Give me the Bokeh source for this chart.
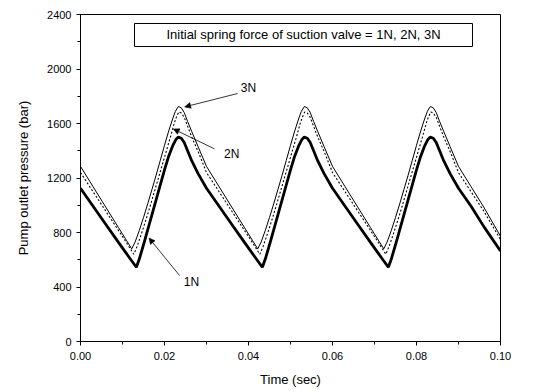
from bokeh.plotting import figure
from bokeh.models import (Range1d, Label, Arrow, NormalHead, SingleIntervalTicker,
                          PrintfTickFormatter, BoxAnnotation)
from bokeh.embed import file_html
from bokeh.resources import INLINE

# ---- data (time in s, pressure in bar) ----
time_1n = [0.0, 0.003, 0.006, 0.009, 0.012, 0.0133, 0.014, 0.015, 0.016, 0.017, 0.018, 0.019, 0.020,
           0.021, 0.022, 0.0227, 0.0233, 0.024, 0.0247, 0.0255, 0.0265, 0.028,
           0.030, 0.033, 0.036, 0.039, 0.042, 0.0433, 0.044, 0.045, 0.046, 0.047, 0.048, 0.049, 0.050,
           0.051, 0.052, 0.0527, 0.0533, 0.054, 0.0547, 0.0555, 0.0565, 0.058,
           0.060, 0.063, 0.066, 0.069, 0.072, 0.0733, 0.074, 0.075, 0.076, 0.077, 0.078, 0.079, 0.080,
           0.081, 0.082, 0.0827, 0.0833, 0.084, 0.0847, 0.0855, 0.0865, 0.088,
           0.090, 0.093, 0.096, 0.100]
p_1n = [1125, 993, 861, 729, 600, 545, 605, 710, 820, 930, 1040, 1150, 1260,
        1360, 1440, 1482, 1500, 1492, 1460, 1400, 1325, 1232,
        1125, 993, 861, 729, 600, 545, 605, 710, 820, 930, 1040, 1150, 1260,
        1360, 1440, 1482, 1500, 1492, 1460, 1400, 1325, 1232,
        1125, 993, 861, 729, 600, 545, 605, 710, 820, 930, 1040, 1150, 1260,
        1360, 1440, 1482, 1500, 1492, 1460, 1400, 1325, 1232,
        1125, 993, 845, 665]

time_2n = [0.0, 0.003, 0.006, 0.009, 0.011, 0.0127, 0.0135, 0.0145, 0.0155, 0.0165, 0.0175, 0.0185,
           0.0195, 0.0205, 0.0215, 0.0223, 0.0228, 0.0234, 0.024, 0.0247, 0.0255, 0.0265, 0.028,
           0.030, 0.033, 0.036, 0.039, 0.041, 0.0427, 0.0435, 0.0445, 0.0455, 0.0465, 0.0475, 0.0485,
           0.0495, 0.0505, 0.0515, 0.0523, 0.0528, 0.0534, 0.054, 0.0547, 0.0555, 0.0565, 0.058,
           0.060, 0.063, 0.066, 0.069, 0.071, 0.0727, 0.0735, 0.0745, 0.0755, 0.0765, 0.0775, 0.0785,
           0.0795, 0.0805, 0.0815, 0.0823, 0.0828, 0.0834, 0.084, 0.0847, 0.0855, 0.0865, 0.088,
           0.090, 0.093, 0.096, 0.100]
p_2n = [1240, 1099, 958, 817, 723, 640, 700, 790, 885, 985, 1090, 1195,
        1300, 1405, 1510, 1600, 1645, 1685, 1677, 1645, 1580, 1500, 1395,
        1240, 1099, 958, 817, 723, 640, 700, 790, 885, 985, 1090, 1195,
        1300, 1405, 1510, 1600, 1645, 1685, 1677, 1645, 1580, 1500, 1395,
        1240, 1099, 958, 817, 723, 640, 700, 790, 885, 985, 1090, 1195,
        1300, 1405, 1510, 1600, 1645, 1685, 1677, 1645, 1580, 1500, 1395,
        1240, 1099, 958, 748]

time_3n = [0.0, 0.003, 0.006, 0.009, 0.011, 0.0122, 0.013, 0.014, 0.015, 0.016, 0.017, 0.018, 0.019,
           0.020, 0.021, 0.022, 0.0226, 0.0233, 0.024, 0.0247, 0.0255, 0.0265, 0.028,
           0.030, 0.033, 0.036, 0.039, 0.041, 0.0422, 0.043, 0.044, 0.045, 0.046, 0.047, 0.048, 0.049,
           0.050, 0.051, 0.052, 0.0526, 0.0533, 0.054, 0.0547, 0.0555, 0.0565, 0.058,
           0.060, 0.063, 0.066, 0.069, 0.071, 0.0722, 0.073, 0.074, 0.075, 0.076, 0.077, 0.078, 0.079,
           0.080, 0.081, 0.082, 0.0826, 0.0833, 0.084, 0.0847, 0.0855, 0.0865, 0.088,
           0.090, 0.093, 0.096, 0.100]
p_3n = [1285, 1136, 987, 838, 739, 680, 730, 815, 910, 1010, 1115, 1220, 1330,
        1440, 1545, 1640, 1690, 1725, 1715, 1680, 1615, 1540, 1430,
        1285, 1136, 987, 838, 739, 680, 730, 815, 910, 1010, 1115, 1220, 1330,
        1440, 1545, 1640, 1690, 1725, 1715, 1680, 1615, 1540, 1430,
        1285, 1136, 987, 838, 739, 680, 730, 815, 910, 1010, 1115, 1220, 1330,
        1440, 1545, 1640, 1690, 1725, 1715, 1680, 1615, 1540, 1430,
        1285, 1136, 987, 772]

x_ticks_interval = 0.02
y_ticks_interval = 400
title_text = "Initial spring force of suction valve = 1N, 2N, 3N"
x_label = "Time (sec)"
y_label = "Pump outlet pressure (bar)"

FONT = "Liberation Sans"

p = figure(frame_width=420, frame_height=327, output_backend="svg", toolbar_location=None,
           x_range=Range1d(0, 0.1), y_range=Range1d(0, 2400),
           min_border_left=80, min_border_top=14, min_border_right=36, min_border_bottom=44)
p.background_fill_color = "white"
p.border_fill_color = "white"
p.outline_line_color = "black"
p.outline_line_width = 1
p.grid.visible = False

p.xaxis.ticker = SingleIntervalTicker(interval=x_ticks_interval, num_minor_ticks=2)
p.yaxis.ticker = SingleIntervalTicker(interval=y_ticks_interval, num_minor_ticks=2)
p.xaxis.formatter = PrintfTickFormatter(format="%.2f")
for ax in (p.xaxis, p.yaxis):
    ax.axis_line_color = "black"
    ax.axis_line_width = 1
    ax.major_tick_line_color = "black"
    ax.minor_tick_line_color = "black"
    ax.major_tick_in = 0
    ax.major_tick_out = 4
    ax.minor_tick_in = 0
    ax.minor_tick_out = 3
    ax.major_label_text_font = FONT
    ax.major_label_text_font_size = "11px"
    ax.major_label_text_color = "black"
    ax.axis_label_text_font = FONT
    ax.axis_label_text_font_size = "13px"
    ax.axis_label_text_font_style = "normal"
    ax.axis_label_text_color = "black"
p.xaxis.axis_label = x_label
p.yaxis.axis_label = y_label
p.xaxis.major_label_standoff = 6
p.yaxis.major_label_standoff = 5
p.xaxis.axis_label_standoff = 9
p.yaxis.axis_label_standoff = 13

p.line(time_3n, p_3n, line_color="black", line_width=1)
p.line(time_2n, p_2n, line_color="black", line_width=1.1, line_dash="2 2")
p.line(time_1n, p_1n, line_color="black", line_width=2.8)

box = BoxAnnotation(left=0.01286, right=0.09333, bottom=2165, top=2334,
                    fill_color="white", fill_alpha=1, line_color="black", line_alpha=1, line_width=1)
p.add_layout(box)
p.add_layout(Label(x=0.0531, y=2250, text=title_text, text_align="center", text_baseline="middle",
                   text_font=FONT, text_font_size="13px", text_color="black"))

def ann(txt, tx, ty, xs, ys, xe, ye):
    p.add_layout(Arrow(end=NormalHead(size=6, fill_color="black", line_color="black", line_width=0.5),
                       x_start=xs, y_start=ys, x_end=xe, y_end=ye,
                       line_color="black", line_width=0.8))
    p.add_layout(Label(x=tx, y=ty, text=txt, text_align="center", text_baseline="middle",
                       text_font=FONT, text_font_size="12px", text_color="black"))

ann("3N", 0.0400, 1857, 0.0374, 1820, 0.0248, 1722)
ann("2N", 0.0360, 1377, 0.0319, 1414, 0.0221, 1560)
ann("1N", 0.0264, 435, 0.0236, 484, 0.0163, 760)

open("out.html", "w").write(file_html(p, INLINE))
